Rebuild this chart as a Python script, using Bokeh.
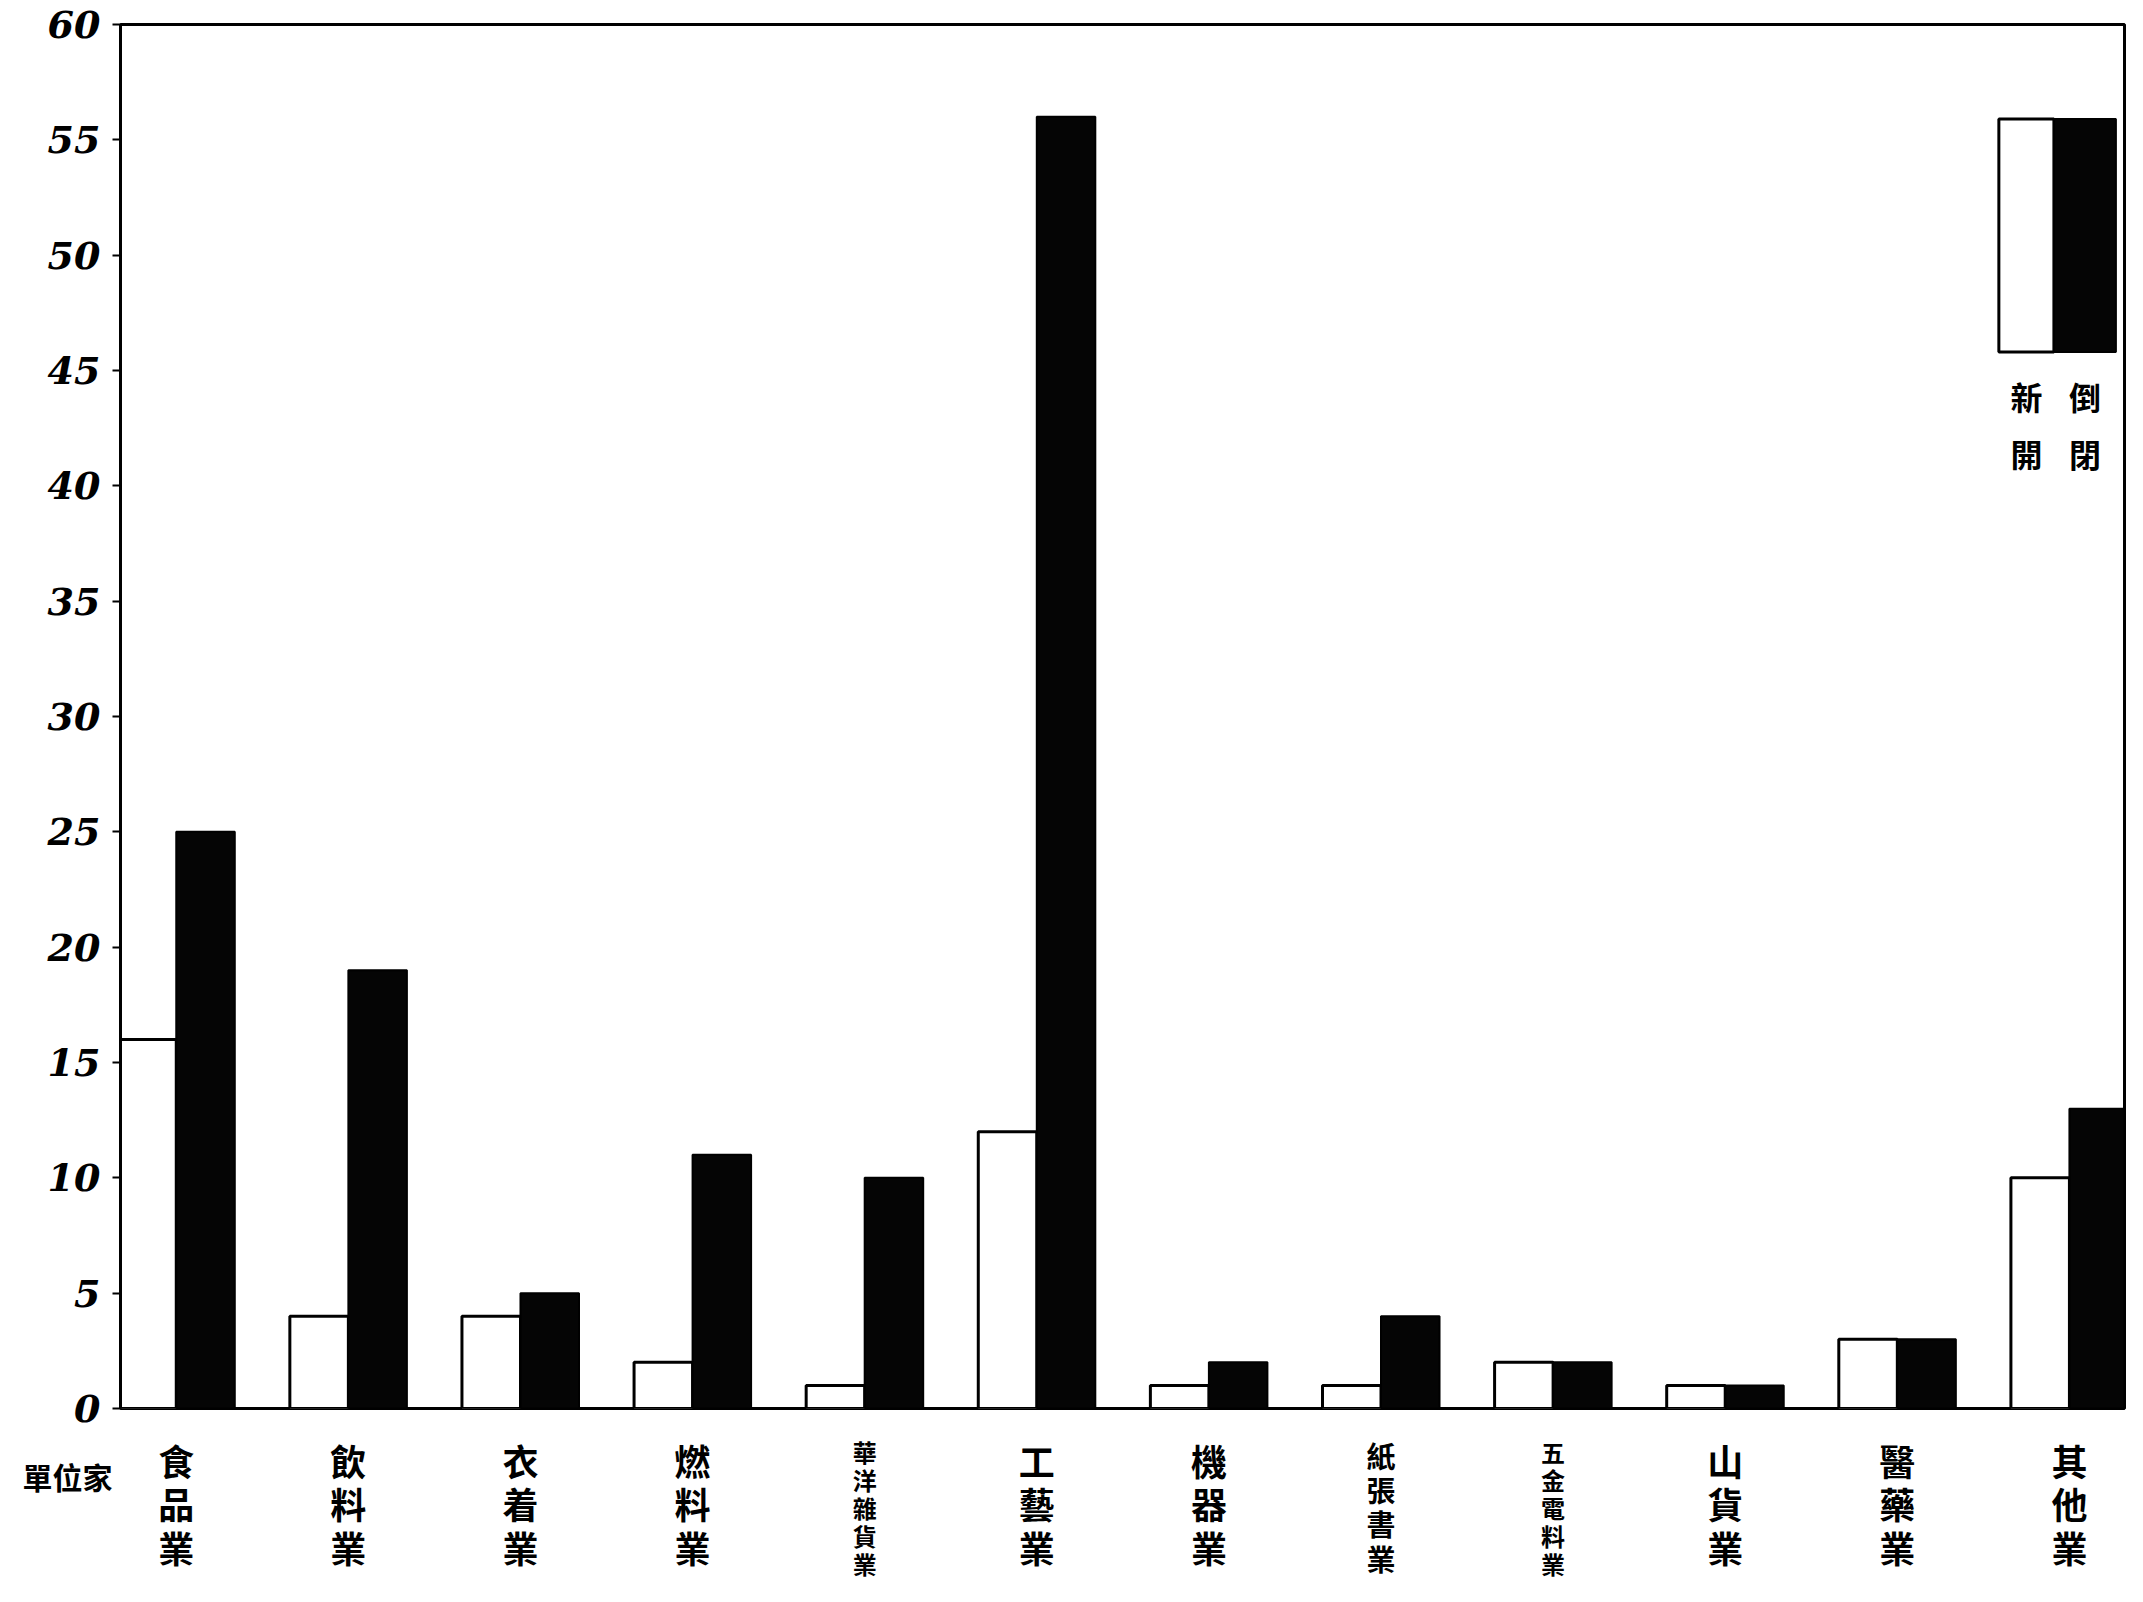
import numpy as np
from bokeh.plotting import figure
from bokeh.layouts import column
from bokeh.models import FixedTicker, Label, BoxAnnotation, Range1d, ColumnDataSource
from bokeh.core.properties import value
from bokeh.embed import file_html
from bokeh.resources import INLINE

# ---- data -------------------------------------------------------------
categories = ["食品業", "飲料業", "衣着業", "燃料業", "華洋雜貨業", "工藝業",
              "機器業", "紙張書業", "五金電料業", "山貨業", "醫藥業", "其他業"]
new_open = [16, 4, 4, 2, 1, 12, 1, 1, 2, 1, 3, 10]      # 新開 (white)
closed = [25, 19, 5, 11, 10, 56, 2, 4, 2, 1, 3, 13]     # 倒閉 (black)
y_ticks = [0, 5, 10, 15, 20, 25, 30, 35, 40, 45, 50, 55, 60]
legend_labels = ["新開", "倒閉"]
unit_label = "單位家"

# ---- layout constants ------------------------------------------------
W = 2127
H_MAIN = 1430
H_LAB = 1586 - H_MAIN
BL, BR, BT, BB = 120, 3, 24, 22
X0, X1 = 0.676, 12.32
x_range = Range1d(X0, X1)

p = figure(width=W, height=H_MAIN, output_backend="svg", toolbar_location=None,
           x_range=x_range, y_range=Range1d(0, 60),
           min_border_left=BL, min_border_right=BR, min_border_top=BT,
           min_border_bottom=BB)
p.background_fill_color = "white"
p.border_fill_color = "white"
p.outline_line_color = "black"
p.outline_line_width = 3
p.grid.visible = False
p.xaxis.visible = False

ya = p.yaxis[0]
ya.ticker = FixedTicker(ticks=y_ticks)
ya.axis_line_width = 3
ya.axis_line_color = "black"
ya.major_tick_in = 0
ya.major_tick_out = 8
ya.major_tick_line_width = 2
ya.minor_tick_in = 0
ya.minor_tick_out = 0
ya.major_label_standoff = 12
ya.major_label_text_font = "DejaVu Serif"
ya.major_label_text_font_style = "bold italic"
ya.major_label_text_font_size = "38px"
ya.major_label_text_color = "black"

xs = np.arange(1, len(categories) + 1)
bw = 0.34
p.vbar(x=xs - bw / 2, top=new_open, bottom=0, width=bw,
       fill_color="white", line_color="black", line_width=3)
p.vbar(x=xs + bw / 2, top=closed, bottom=0, width=bw,
       fill_color="#050505", line_color="black", line_width=2)

# ---- legend (swatches at top right) --------------------------------
p.add_layout(BoxAnnotation(left=11.59, right=11.91, bottom=45.8, top=55.9,
                           fill_color="white", fill_alpha=1,
                           line_color="black", line_width=3, line_alpha=1))
p.add_layout(BoxAnnotation(left=11.91, right=12.27, bottom=45.8, top=55.9,
                           fill_color="#050505", fill_alpha=1,
                           line_color="black", line_width=2, line_alpha=1))
for lx, txt in zip([11.75, 12.09], legend_labels):
    p.add_layout(Label(x=lx, y=44.9, text="\n".join(txt), text_align="center",
                       text_baseline="top", text_font="Noto Sans CJK TC",
                       text_font_style="bold", text_font_size="32px",
                       text_line_height=1.25, text_color="black"))

# ---- category label strip (frame aligned with the main plot) --------
q = figure(width=W, height=H_LAB, output_backend="svg", toolbar_location=None,
           x_range=x_range, y_range=Range1d(-H_LAB, 0),
           min_border_left=BL, min_border_right=BR, min_border_top=0,
           min_border_bottom=0)
q.xaxis.visible = False
q.grid.visible = False
q.outline_line_color = None
q.background_fill_color = "white"
q.border_fill_color = "white"

qa = q.yaxis[0]
qa.ticker = FixedTicker(ticks=[-45])
qa.major_label_overrides = {-45: unit_label}
qa.axis_line_color = None
qa.major_tick_line_color = None
qa.minor_tick_line_color = None
qa.major_label_standoff = 2
qa.major_label_text_font = "Noto Sans CJK TC"
qa.major_label_text_font_style = "bold"
qa.major_label_text_font_size = "30px"
qa.major_label_text_color = "black"

n_chars = [len(c) for c in categories]
sizes = [("36px" if n <= 3 else ("29px" if n == 4 else "24px")) for n in n_chars]
heights = [(0.84 if n <= 3 else (0.82 if n == 4 else 0.80)) for n in n_chars]
src = ColumnDataSource(dict(x=xs, y=[-3] * len(xs),
                            text=["\n".join(c) for c in categories],
                            size=sizes, lh=heights))
q.text(x="x", y="y", text="text", source=src, text_align="center",
       text_baseline="top", text_font=value("Noto Sans CJK TC"),
       text_font_style="bold", text_font_size="size", text_line_height="lh",
       text_color="black")

layout = column(p, q, spacing=0)
open("out.html", "w").write(file_html(layout, INLINE))
